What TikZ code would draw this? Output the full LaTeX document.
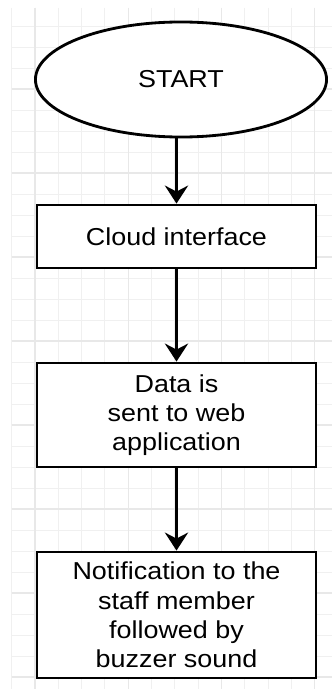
\documentclass[tikz,border=0pt]{standalone}
\usepackage{fontspec}
\setmainfont[FakeStretch=1.1]{Liberation Sans}
\usetikzlibrary{shapes.geometric,arrows.meta}

\begin{document}
\begin{tikzpicture}[x=0.025cm,y=-0.025cm,line width=2pt,
        >={Stealth[length=0.45cm,width=0.58cm,inset=0.15cm]},
        font=\fontsize{17.4}{20.8}\selectfont,
        gridminor/.style={line width=0.6pt,black!6},
        gridmajor/.style={line width=0.8pt,black!9},
        startbox/.style={ellipse,draw,fill=white,inner sep=0pt,minimum width=7.275cm,minimum height=2.875cm},
        procbox/.style={rectangle,draw,fill=white,inner sep=0pt,minimum width=6.975cm,align=center}]
        \def\gx{11.7}
        \def\gy{5}
        \def\dx{23.3}
        \def\dy{21}
        \fill[white] (0,0) rectangle (332,689);
        \useasboundingbox (0,0) rectangle (332,689);

        \foreach \i in {0,...,13}
            \draw[gridminor] ({\gx+\dx*\i},8) -- ({\gx+\dx*\i},689);
        \foreach \j in {1,...,32}
            \draw[gridminor] (\gx,{\gy+\dy*\j}) -- (332,{\gy+\dy*\j});
        \foreach \i in {1,5,9,13}
            \draw[gridmajor] ({\gx+\dx*\i},8) -- ({\gx+\dx*\i},689);
        \foreach \j in {4,8,...,32}
            \draw[gridmajor] (\gx,{\gy+\dy*\j}) -- (332,{\gy+\dy*\j});

        \node[startbox] (start) at (181,79.5) {START};
        \node[procbox,minimum height=1.575cm] (cloud) at (176.5,236.5) {Cloud interface};
        \node[procbox,minimum height=2.6cm] (data) at (176.5,415) {Data is\\sent to web\\application};
        \node[procbox,minimum height=3.15cm] (notify) at (176.5,615) {Notification to the\\staff member\\followed by\\buzzer sound};

        \draw[->] (cloud.north |- start.south) -- (cloud.north);
        \draw[->] (cloud) -- (data);
        \draw[->] (data) -- (notify);
\end{tikzpicture}
\end{document}
